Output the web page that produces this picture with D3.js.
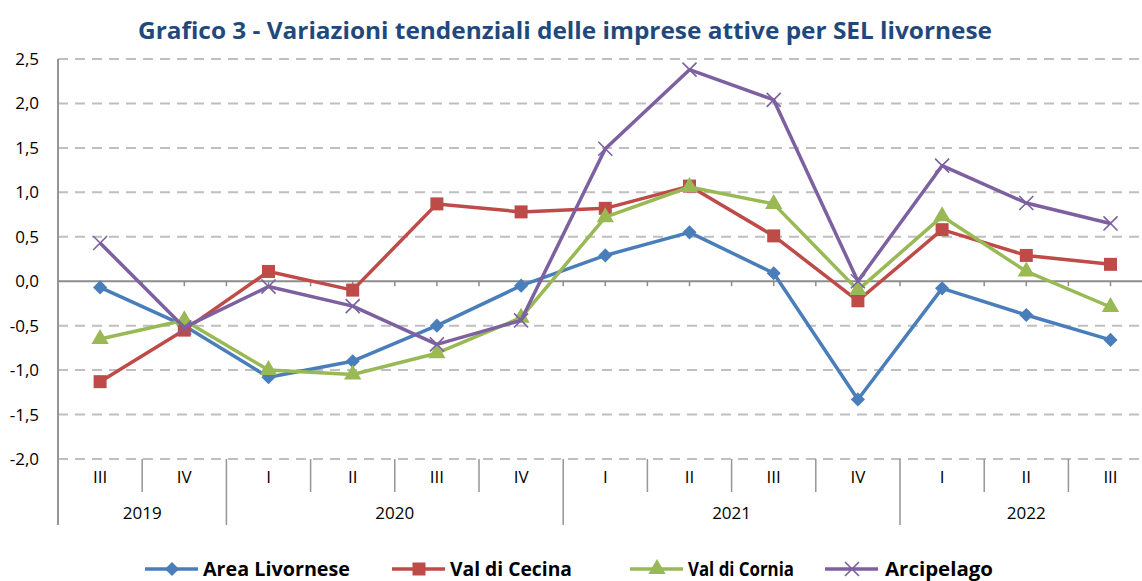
<!DOCTYPE html>
<html>
<head>
<meta charset="utf-8">
<script src="https://cdn.jsdelivr.net/npm/d3@7"></script>
<style>
  html, body { margin: 0; padding: 0; background: #fff; }
  svg { display: block; }
</style>
</head>
<body>
<div id="chart"></div>
<script>
// ---- data ----
const quarters = ['III', 'IV', 'I', 'II', 'III', 'IV', 'I', 'II', 'III', 'IV', 'I', 'II', 'III'];
const years = [
  { label: '2019', from: 0, to: 2 },
  { label: '2020', from: 2, to: 6 },
  { label: '2021', from: 6, to: 10 },
  { label: '2022', from: 10, to: 13 }
];
const yTicks = [2.5, 2.0, 1.5, 1.0, 0.5, 0.0, -0.5, -1.0, -1.5, -2.0];

const areaLivornese = [-0.07, -0.50, -1.08, -0.90, -0.50, -0.05, 0.29, 0.55, 0.09, -1.33, -0.08, -0.38, -0.66];
const valDiCecina   = [-1.13, -0.55, 0.11, -0.10, 0.87, 0.78, 0.82, 1.07, 0.51, -0.22, 0.58, 0.29, 0.19];
const valDiCornia   = [-0.65, -0.44, -1.00, -1.05, -0.81, -0.41, 0.72, 1.06, 0.87, -0.10, 0.73, 0.11, -0.29];
const arcipelago    = [0.43, -0.52, -0.06, -0.28, -0.71, -0.44, 1.49, 2.38, 2.04, 0.00, 1.30, 0.88, 0.65];

const series = [
  { name: 'Area Livornese', values: areaLivornese, color: '#4A7EBB', marker: 'diamond' },
  { name: 'Val di Cecina',  values: valDiCecina,   color: '#BE4B48', marker: 'square' },
  { name: 'Val di Cornia',  values: valDiCornia,   color: '#98B954', marker: 'triangle' },
  { name: 'Arcipelago',     values: arcipelago,    color: '#7D60A0', marker: 'x' }
];

// ---- layout ----
const W = 1142, H = 581;
const plot = { left: 58, right: 58 + 13 * 84.2, top: 59, bottom: 459 };
const font = '"Open Sans", "Noto Sans", sans-serif';

const svg = d3.select('#chart').append('svg')
  .attr('width', W).attr('height', H)
  .attr('viewBox', `0 0 ${W} ${H}`);

const x = d3.scaleBand()
  .domain(d3.range(quarters.length))
  .range([plot.left, plot.right]);
const y = d3.scaleLinear()
  .domain([-2, 2.5])
  .range([plot.bottom, plot.top]);

// title
svg.append('text')
  .attr('x', 565).attr('y', 39)
  .attr('text-anchor', 'middle')
  .attr('font-family', font)
  .attr('font-size', 24).attr('font-weight', 700)
  .attr('fill', '#1F497D')
  .attr('textLength', 854).attr('lengthAdjust', 'spacingAndGlyphs')
  .text('Grafico 3 - Variazioni tendenziali delle imprese attive per SEL livornese');

// dashed gridlines
svg.append('g').selectAll('line')
  .data(yTicks.filter(d => d !== 0))
  .join('line')
  .attr('x1', plot.left).attr('x2', W)
  .attr('y1', d => y(d)).attr('y2', d => y(d))
  .attr('stroke', '#BFBFBF')
  .attr('stroke-width', 2)
  .attr('stroke-dasharray', '10,7');

// y axis labels
svg.append('g').selectAll('text')
  .data(yTicks)
  .join('text')
  .attr('x', 39).attr('y', d => y(d) + 6)
  .attr('text-anchor', 'end')
  .attr('font-family', font).attr('font-size', 17)
  .attr('fill', '#000')
  .text(d => d3.format('.1f')(d).replace('.', ',').replace('−', '-'));

// category separators below the plot
const bounds = d3.range(quarters.length + 1).map(i => i === quarters.length ? plot.right : x(i));
const yearStarts = new Set(years.map(d => d.from));
svg.append('g').selectAll('line')
  .data(d3.range(1, quarters.length))
  .join('line')
  .attr('x1', i => bounds[i]).attr('x2', i => bounds[i])
  .attr('y1', plot.bottom)
  .attr('y2', i => yearStarts.has(i) ? 525 : 492)
  .attr('stroke', '#969696')
  .attr('stroke-width', 1.5);

// quarter labels
svg.append('g').selectAll('text')
  .data(quarters)
  .join('text')
  .attr('x', (d, i) => x(i) + x.bandwidth() / 2)
  .attr('y', 483)
  .attr('text-anchor', 'middle')
  .attr('font-family', font).attr('font-size', 17)
  .attr('fill', '#000')
  .text(d => d);

// year labels
svg.append('g').selectAll('text')
  .data(years)
  .join('text')
  .attr('x', d => (bounds[d.from] + bounds[d.to]) / 2)
  .attr('y', 519)
  .attr('text-anchor', 'middle')
  .attr('font-family', font).attr('font-size', 17)
  .attr('fill', '#000')
  .text(d => d.label);

// left axis line
svg.append('line')
  .attr('x1', plot.left).attr('x2', plot.left)
  .attr('y1', plot.top).attr('y2', 525)
  .attr('stroke', '#969696').attr('stroke-width', 2);

// zero axis with small ticks
svg.append('line')
  .attr('x1', plot.left).attr('x2', W)
  .attr('y1', y(0)).attr('y2', y(0))
  .attr('stroke', '#8C8C8C').attr('stroke-width', 2);
const halfTicks = d3.range(1, quarters.length * 2).map(k => plot.left + k * x.bandwidth() / 2);
svg.append('g').selectAll('line')
  .data(halfTicks)
  .join('line')
  .attr('x1', d => d).attr('x2', d => d)
  .attr('y1', y(0)).attr('y2', y(0) + 5)
  .attr('stroke', '#8C8C8C').attr('stroke-width', 1.5);

// markers
const sym = {
  diamond:  d3.symbol().type(d3.symbolSquare).size(100),
  square:   d3.symbol().type(d3.symbolSquare).size(169),
  triangle: d3.symbol().type(d3.symbolTriangle).size(130),
  x:        d3.symbol().type(d3.symbolX).size(130)
};

function drawMarker(g, s, cx, cy) {
  const p = g.append('path')
    .attr('d', sym[s.marker]())
    .attr('transform', `translate(${cx},${cy})` + (s.marker === 'diamond' ? ' rotate(45)' : ''));
  if (s.marker === 'x') {
    p.attr('fill', 'none').attr('stroke', s.color).attr('stroke-width', 1.6);
  } else {
    p.attr('fill', s.color);
  }
}

const line = d3.line()
  .x((d, i) => x(i) + x.bandwidth() / 2)
  .y(d => y(d));

series.forEach(s => {
  const g = svg.append('g');
  g.append('path')
    .attr('d', line(s.values))
    .attr('fill', 'none')
    .attr('stroke', s.color)
    .attr('stroke-width', 3.5)
    .attr('stroke-linejoin', 'round');
  s.values.forEach((v, i) => drawMarker(g, s, x(i) + x.bandwidth() / 2, y(v)));
});

// legend
const legendItems = [
  { x0: 145, tx: 203, tw: 147 },
  { x0: 392, tx: 450, tw: 122 },
  { x0: 630, tx: 688, tw: 106 },
  { x0: 825, tx: 885, tw: 108 }
];
const ly = 569;
series.forEach((s, i) => {
  const L = legendItems[i];
  const g = svg.append('g');
  g.append('line')
    .attr('x1', L.x0).attr('x2', L.x0 + 53)
    .attr('y1', ly).attr('y2', ly)
    .attr('stroke', s.color).attr('stroke-width', 3.5);
  drawMarker(g, s, L.x0 + 27, ly);
  g.append('text')
    .attr('x', L.tx).attr('y', ly + 7)
    .attr('font-family', font).attr('font-size', 19).attr('font-weight', 700)
    .attr('fill', '#000')
    .attr('textLength', L.tw).attr('lengthAdjust', 'spacingAndGlyphs')
    .text(s.name);
});
</script>
</body>
</html>
